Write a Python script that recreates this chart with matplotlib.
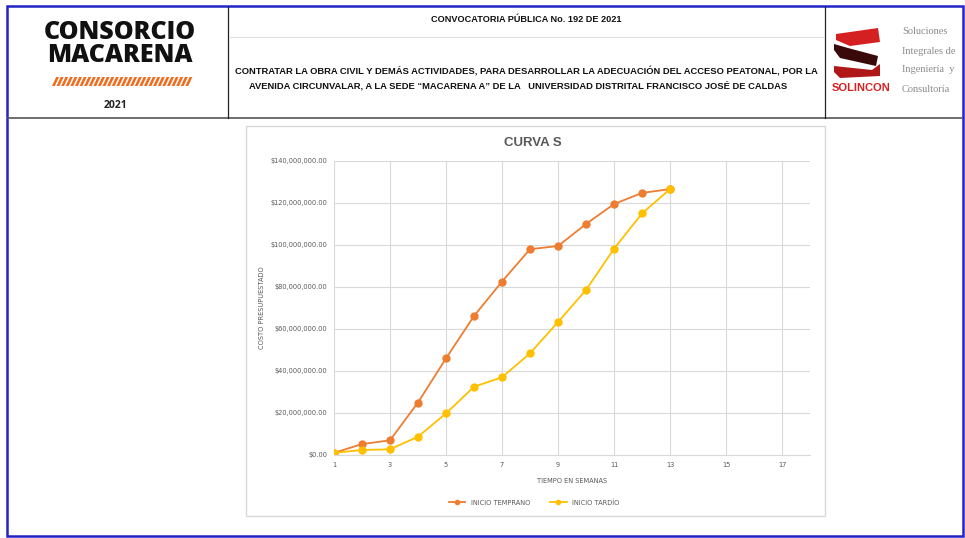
import matplotlib.pyplot as plt
from matplotlib.patches import Rectangle, Polygon
from matplotlib.ticker import FuncFormatter

# Datos de la curva S (semanas y costo acumulado)
semanas = [1, 2, 3, 4, 5, 6, 7, 8, 9, 10, 11, 12, 13]
inicio_temprano = [1.0e6, 5.2e6, 7.0e6, 25.0e6, 46.0e6, 66.2e6, 82.6e6, 98.0e6,
                   99.5e6, 110.0e6, 119.5e6, 124.8e6, 126.6e6]
inicio_tardio = [1.0e6, 2.4e6, 2.7e6, 8.7e6, 19.8e6, 32.5e6, 37.0e6, 48.4e6,
                 63.3e6, 78.6e6, 98.2e6, 115.0e6, 126.6e6]
ticks_x = [1, 3, 5, 7, 9, 11, 13, 15, 17]
ticks_y = [0, 20e6, 40e6, 60e6, 80e6, 100e6, 120e6, 140e6]

W, H = 965, 538
fig = plt.figure(figsize=(W / 100, H / 100), dpi=100)

# capa de fondo en coordenadas de pixel
bg = fig.add_axes([0, 0, 1, 1])
bg.set_xlim(0, W)
bg.set_ylim(H, 0)
bg.axis('off')

azul = '#2323c8'
bg.add_patch(Rectangle((7, 6), 956, 530, fill=False, edgecolor=azul, lw=1.8))
bg.plot([8, 962], [118, 118], color='#555555', lw=1.2)
bg.plot([228, 228], [7, 118], color='#222222', lw=0.9)
bg.plot([825, 825], [7, 118], color='#222222', lw=0.9)
bg.plot([229, 824], [37, 37], color='#dddddd', lw=0.8)

fuente = 'Liberation Sans'
bg.text(526, 20, 'CONVOCATORIA PÚBLICA No. 192 DE 2021', ha='center', va='center',
        fontsize=6.6, fontweight='bold', family=fuente, color='#111111')
bg.text(526, 71, 'CONTRATAR LA OBRA CIVIL Y DEMÁS ACTIVIDADES, PARA DESARROLLAR LA ADECUACIÓN DEL ACCESO PEATONAL, POR LA',
        ha='center', va='center', fontsize=6.75, fontweight='bold', family=fuente, color='#111111')
bg.text(518, 86, 'AVENIDA CIRCUNVALAR, A LA SEDE “MACARENA A” DE LA   UNIVERSIDAD DISTRITAL FRANCISCO JOSÉ DE CALDAS',
        ha='center', va='center', fontsize=6.75, fontweight='bold', family=fuente, color='#111111')

# logo consorcio
bg.text(120, 44, 'CONSORCIO\nMACARENA', ha='center', va='center', fontsize=18,
        fontweight='heavy', family='Open Sans', color='#111111', linespacing=0.88)
for i in range(30):
    x0 = 52 + i * 4.6
    bg.add_patch(Polygon([[x0, 86], [x0 + 2.8, 86], [x0 + 7, 77], [x0 + 4.2, 77]],
                         closed=True, color='#f26b1d', lw=0))
bg.text(116, 106, '2021', ha='center', va='center', fontsize=7.5, fontweight='bold',
        family='Open Sans', color='#222222')

# logo solincon
bg.add_patch(Polygon([[836, 34], [878, 28], [880, 42], [850, 46], [836, 40]], color='#d42020', lw=0))
bg.add_patch(Polygon([[834, 44], [848, 48], [878, 56], [876, 66], [840, 58], [834, 50]], color='#3a0a0a', lw=0))
bg.add_patch(Polygon([[834, 66], [872, 70], [880, 64], [880, 76], [840, 78], [834, 72]], color='#b01818', lw=0))
bg.text(832, 88, 'SOLINCON', ha='left', va='center', fontsize=8, fontweight='bold',
        family=fuente, color='#d42020')
for j, linea in enumerate(['Soluciones', 'Integrales de', 'Ingeniería  y', 'Consultoría']):
    bg.text(902, 32 + j * 19, linea, ha='left', va='center', fontsize=7.5,
            family='Liberation Serif', color='#8a8a8a')

# marco del grafico
bg.add_patch(Rectangle((246, 126), 579, 390, fill=False, edgecolor='#d9d9d9', lw=1))
bg.text(533, 143, 'CURVA S', ha='center', va='center', fontsize=9.5, fontweight='bold',
        family=fuente, color='#595959')

# grafico
ax = fig.add_axes([334 / W, (H - 455) / H, (810 - 334) / W, (455 - 161) / H])
ax.plot(semanas, inicio_temprano, color='#ED7D31', marker='o', markersize=5,
        lw=1.3, label='INICIO TEMPRANO')
ax.plot(semanas, inicio_tardio, color='#FFC000', marker='o', markersize=5,
        lw=1.3, label='INICIO TARDÍO')
ax.set_xlim(1, 18)
ax.set_ylim(0, 140e6)
ax.set_xticks(ticks_x)
ax.set_yticks(ticks_y)
ax.yaxis.set_major_formatter(FuncFormatter(lambda v, p: '${:,.2f}'.format(v)))
ax.grid(True, color='#d9d9d9', lw=0.8)
ax.set_axisbelow(True)
for s in ['top', 'right', 'left']:
    ax.spines[s].set_visible(False)
ax.spines['bottom'].set_color('#d9d9d9')
ax.tick_params(length=0, labelsize=4.8, labelcolor='#595959', pad=5)
ax.set_xlabel('TIEMPO EN SEMANAS', fontsize=4.8, color='#595959', labelpad=7)
ax.set_ylabel('COSTO PRESUPUESTADO', fontsize=4.8, color='#595959', labelpad=4)
ax.legend(loc='upper center', bbox_to_anchor=(0.42, -0.13), ncol=2, frameon=False,
          fontsize=4.8, labelcolor='#595959', handlelength=2.5, columnspacing=3,
          markerscale=0.6)

fig.savefig('out.png', dpi=100)
